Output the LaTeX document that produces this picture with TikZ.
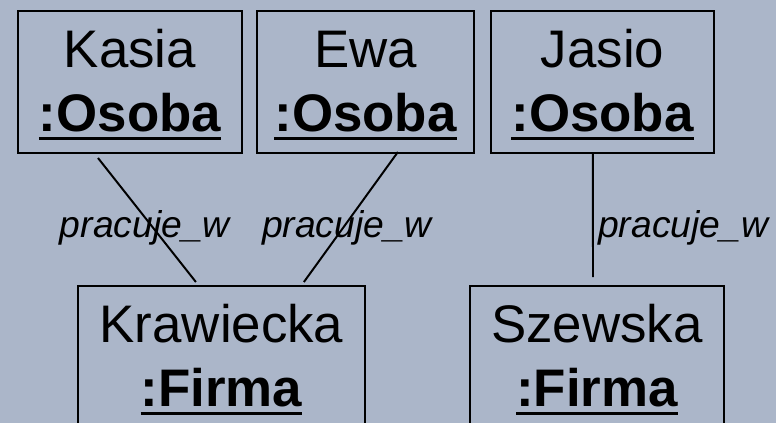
\documentclass[tikz,border=0pt]{standalone}
\usepackage{fontspec}
\setmainfont{Liberation Sans}
\usepackage{tikz}
\usetikzlibrary{positioning}
\definecolor{tlo}{RGB}{171,182,201}
\newsavebox{\klasabox}
\newcommand{\klasa}[1]{\sbox{\klasabox}{\bfseries #1}\leavevmode\rlap{\usebox{\klasabox}}\raisebox{-5.7pt}{\rule{\wd\klasabox}{2.2pt}}}
\newcommand{\obj}[2]{\rule{0pt}{30.5pt}#1\\\klasa{#2}}
\tikzset {
  % object box
  obiekt/.style = {draw, line width=1.4pt, align=center, minimum height=3.55cm, inner sep=0pt,
    font=\fontsize{37.6}{46}\selectfont},
  % link between objects
  link/.style = {line width=1.4pt},
  % link label
  rola/.style = {font=\itshape\fontsize{26.5}{30}\selectfont, inner sep=1pt},
}

\begin{document}
\begin{tikzpicture}
      \fill[tlo] (0,0) rectangle (19.4,-10.575);
      \useasboundingbox (0,0) rectangle (19.4,-10.575);
      \clip (0,0) rectangle (19.4,-10.575);

      \node[obiekt, minimum width=5.6cm] (kasia) at (3.25, -2.05) {\obj{Kasia}{:Osoba}};
      \node[obiekt, minimum width=5.425cm] (ewa) at (9.1375, -2.05) {\obj{Ewa}{:Osoba}};
      \node[obiekt, minimum width=5.575cm] (jasio) at (15.0625, -2.05) {\obj{Jasio}{:Osoba}};

      \node[obiekt, minimum width=7.175cm] (krawiecka) at (5.5375, -8.925) {\obj{Krawiecka}{:Firma}};
      \node[obiekt, minimum width=6.35cm] (szewska) at (14.925, -8.925) {\obj{Szewska}{:Firma}};

      \draw [link] ([shift={(-0.8,-0.1)}]kasia.south) -- ([shift={(-0.64,0.075)}]krawiecka.north)
        node[rola, pos=0.56, xshift=-0.2cm] (r1) {pracuje\_w};
      \draw [link] ([shift={(0.81,0.05)}]ewa.south) -- ([shift={(2.06,0.075)}]krawiecka.north)
        node[rola, pos=0.58, xshift=0.09cm] (r2) {pracuje\_w};
      \draw [link] ([xshift=-0.24cm]jasio.south) -- ([shift={(-0.1,0.2)}]szewska.north)
        node[rola, pos=0.6, right, xshift=2pt] (r3) {pracuje\_w};
    \end{tikzpicture}
\end{document}
